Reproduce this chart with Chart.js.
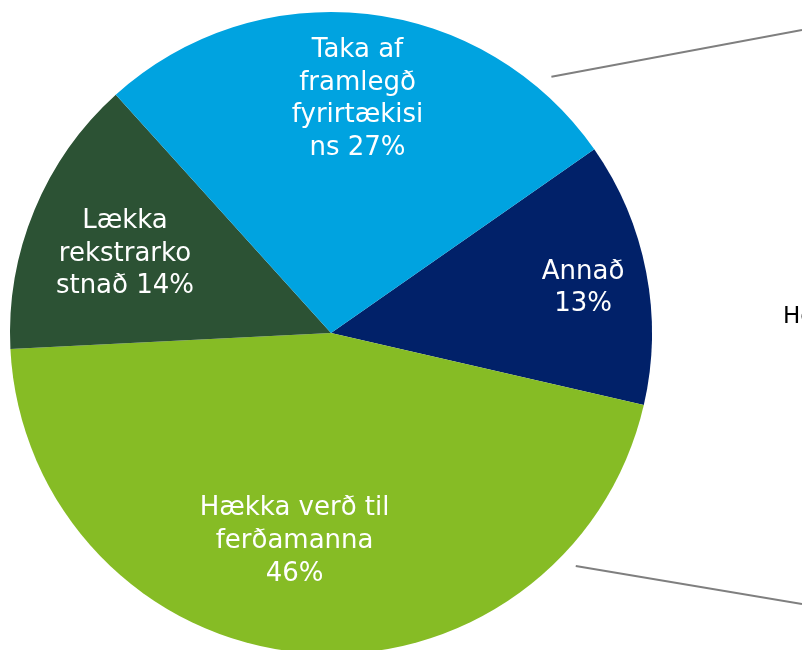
<!DOCTYPE html>
<html>
<head>
<meta charset="utf-8">
<script src="https://cdn.jsdelivr.net/npm/chart.js@4/dist/chart.umd.min.js"></script>
<style>
  html, body { margin: 0; padding: 0; background: #fff; overflow: hidden; }
  #wrap { width: 802px; height: 650px; overflow: hidden; position: relative; }
  #box { width: 802px; height: 680px; position: absolute; left: 0; top: 0; }
</style>
</head>
<body>
<div id="wrap"><div id="box"><canvas id="c"></canvas></div></div>
<script>
// Categories (clockwise from the upper-right boundary)
const categories = ['Annað', 'Hækka verð til ferðamanna', 'Lækka rekstrarkostnað', 'Taka af framlegð fyrirtækisins'];
// Shares (percent)
const shares = [13.3, 45.6, 14.1, 27.0];
// Label lines as wrapped in the picture (percent appended from the shares)
const labelLines = [
  ['Annað', '{p}%'],
  ['Hækka verð til', 'ferðamanna', '{p}%'],
  ['Lækka', 'rekstrarko', 'stnað {p}%'],
  ['Taka af', 'framlegð', 'fyrirtækisi', 'ns {p}%']
];
const sliceColors = ['#012169', '#86BC25', '#2C5234', '#00A3E0'];
// Partial text of the neighbouring (cut-off) chart
const sideText = 'He';

const labelRadius = [0.80, 0.65, 0.69, 0.73];
const labelAngleShift = [0, 5, -1, 0];
const labelDy = [4, 3, 2, -1];

const labelPlugin = {
  id: 'sliceLabels',
  afterDatasetsDraw(chart) {
    const ctx = chart.ctx;
    const meta = chart.getDatasetMeta(0);
    ctx.save();
    ctx.font = '26px "DejaVu Sans", Verdana, sans-serif';
    ctx.fillStyle = '#ffffff';
    ctx.textAlign = 'center';
    ctx.textBaseline = 'middle';
    const lh = 32.7;
    meta.data.forEach((arc, i) => {
      const p = arc.getProps(['x', 'y', 'startAngle', 'endAngle', 'outerRadius'], true);
      const mid = (p.startAngle + p.endAngle) / 2 + labelAngleShift[i] * Math.PI / 180;
      const r = p.outerRadius * labelRadius[i];
      const cx = p.x + Math.cos(mid) * r;
      const cy = p.y + Math.sin(mid) * r + labelDy[i];
      const lines = labelLines[i].map(s => s.replace('{p}', Math.round(shares[i])));
      const y0 = cy - (lines.length - 1) * lh / 2;
      lines.forEach((s, k) => ctx.fillText(s, cx, y0 + k * lh));
    });
    // connector lines to the neighbouring chart
    const a0 = meta.data[0].getProps(['x', 'y', 'outerRadius'], true);
    const R = a0.outerRadius + 17;
    ctx.strokeStyle = '#7f7f7f';
    ctx.lineWidth = 2;
    const conn = [[-49.3, 30], [43.6, 604]];
    conn.forEach(([deg, yEnd]) => {
      const t = deg * Math.PI / 180;
      ctx.beginPath();
      ctx.moveTo(a0.x + Math.cos(t) * R, a0.y + Math.sin(t) * R);
      ctx.lineTo(chart.width, yEnd);
      ctx.stroke();
    });
    ctx.fillStyle = '#000000';
    ctx.textAlign = 'left';
    ctx.textBaseline = 'alphabetic';
    ctx.font = '23px "DejaVu Sans", Verdana, sans-serif';
    ctx.fillText(sideText, 783, 323);
    ctx.restore();
  }
};

new Chart(document.getElementById('c'), {
  type: 'pie',
  data: {
    labels: categories,
    datasets: [{
      data: shares,
      backgroundColor: sliceColors,
      borderWidth: 0
    }]
  },
  options: {
    responsive: true,
    maintainAspectRatio: false,
    animation: false,
    rotation: 55.1,
    layout: { padding: { left: 10, right: 150, top: 12, bottom: 26 } },
    plugins: { legend: { display: false }, tooltip: { enabled: false } }
  },
  plugins: [labelPlugin]
});
</script>
</body>
</html>
